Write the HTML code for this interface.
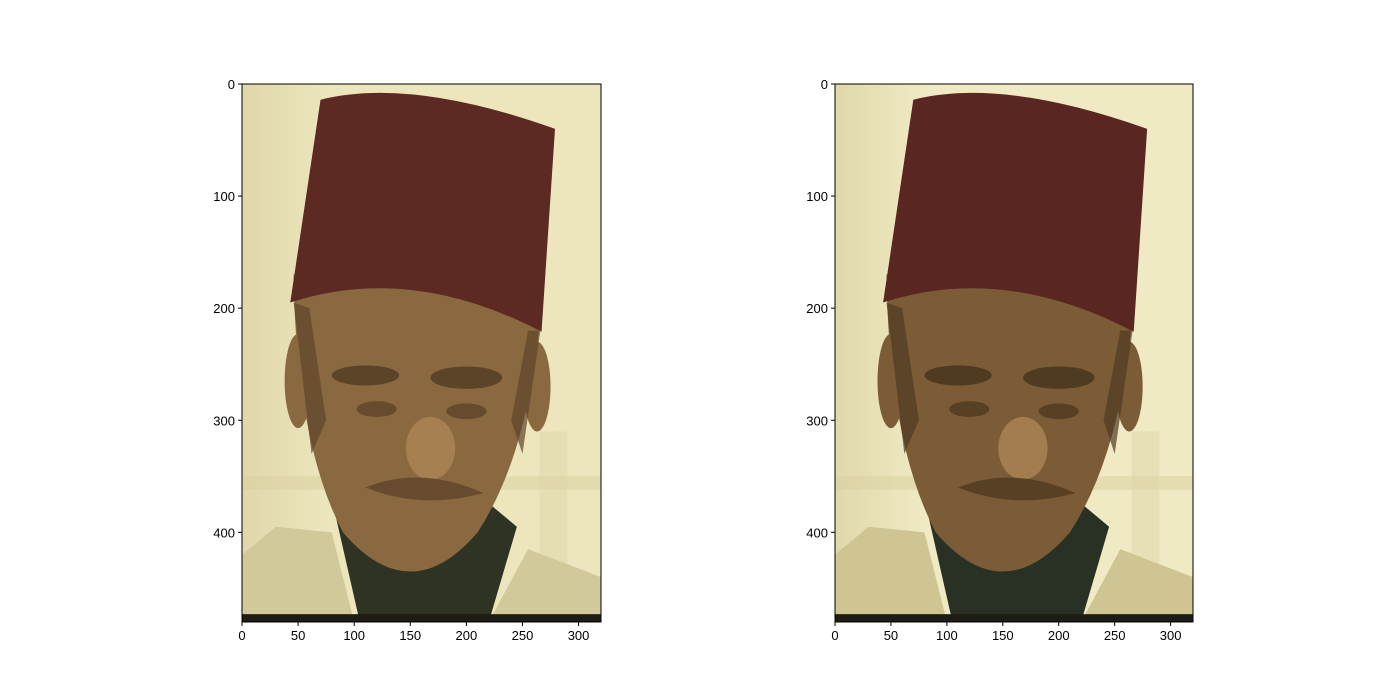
<!DOCTYPE html>
<html><head><meta charset="utf-8"><style>
html,body{margin:0;padding:0;background:#fff;width:1400px;height:700px;overflow:hidden}
svg{display:block}
text{font-family:"Liberation Sans",sans-serif;font-size:13px;fill:#000}
</style></head><body>
<svg id="fig" width="1400" height="700"></svg>
<script>
const xTicks=[0,50,100,150,200,250,300];
const yTicks=[0,100,200,300,400];
const imgW=320, imgH=480;
const panels=[
 {name:'original-image',x0:242,x1:601,bg:'#ede6bd',fez:'#5c2a23',face:'#8a6940',shade:'#5c4429',neck:'#2e3324',jacket:'#d2c99a'},
 {name:'processed-image',x0:835,x1:1193,bg:'#f0eac4',fez:'#5a2621',face:'#7c5c36',shade:'#4f3a22',neck:'#293024',jacket:'#cfc592'}
];
const y0=84,y1=622;
const NS='http://www.w3.org/2000/svg';
const fig=document.getElementById('fig');
function mk(t,a,p){const e=document.createElementNS(NS,t);for(const k in a)e.setAttribute(k,a[k]);(p||fig).appendChild(e);return e;}
panels.forEach(P=>{
 const sx=v=>P.x0+v*(P.x1-P.x0)/imgW, sy=v=>y0+v*(y1-y0)/imgH;
 const g=mk('svg',{x:P.x0,y:y0,width:P.x1-P.x0,height:y1-y0,viewBox:'0 0 320 480',preserveAspectRatio:'none'});
 
 
 const defs=mk('defs',{},g);
 const lg=mk('linearGradient',{id:'bg'+P.x0,x1:0,y1:0,x2:1,y2:0},defs);
 mk('stop',{offset:0,'stop-color':'#e0d8aa'},lg);mk('stop',{offset:0.25,'stop-color':P.bg},lg);mk('stop',{offset:1,'stop-color':P.bg},lg);
 mk('rect',{x:0,y:0,width:320,height:480,fill:'url(#bg'+P.x0+')'},g);
 mk('rect',{x:0,y:350,width:320,height:12,fill:'#d8cfa0',opacity:0.5},g);
 mk('rect',{x:265,y:310,width:25,height:120,fill:'#ddd5a8',opacity:0.5},g);
 // jacket
 mk('path',{d:'M0 420 L30 395 L80 400 L100 480 L0 480 Z',fill:P.jacket},g);
 mk('path',{d:'M220 480 L255 415 L320 440 L320 480 Z',fill:P.jacket},g);
 // neck/shirt
 mk('path',{d:'M80 370 L120 360 L215 370 L245 395 L220 480 L105 480 Z',fill:P.neck},g);
 // ears
 mk('ellipse',{cx:50,cy:265,rx:12,ry:42,fill:P.face},g);
 mk('ellipse',{cx:263,cy:270,rx:12,ry:40,fill:P.face},g);
 // face
 mk('path',{d:'M46 170 Q48 320 90 400 Q150 470 210 400 Q262 320 268 170 Z',fill:P.face},g);
 mk('path',{d:'M46 195 L62 330 L75 300 L60 200 Z',fill:P.shade,opacity:0.7},g);
 mk('path',{d:'M266 220 L250 330 L240 300 L255 220 Z',fill:P.shade,opacity:0.7},g);
 mk('ellipse',{cx:110,cy:260,rx:30,ry:9,fill:P.shade},g);
 mk('ellipse',{cx:200,cy:262,rx:32,ry:10,fill:P.shade},g);
 mk('ellipse',{cx:120,cy:290,rx:18,ry:7,fill:P.shade,opacity:0.8},g);
 mk('ellipse',{cx:200,cy:292,rx:18,ry:7,fill:P.shade,opacity:0.8},g);
 mk('ellipse',{cx:168,cy:325,rx:22,ry:28,fill:'#b38a5a',opacity:0.7},g);
 mk('path',{d:'M110 360 Q160 340 215 365 Q160 380 110 360 Z',fill:P.shade,opacity:0.8},g);
 // fez
 mk('path',{d:'M70 14 Q150 -6 279 40 L267 221 Q150 160 43 195 Z',fill:P.fez},g);
 // bottom strip
 mk('rect',{x:0,y:473,width:320,height:7,fill:'#1e1c14'},g);
 // frame
 const fr=mk('rect',{x:P.x0,y:y0,width:P.x1-P.x0,height:y1-y0,fill:'none',stroke:'#000','stroke-width':1});
 
 
 xTicks.forEach(t=>{const x=sx(t);
  mk('line',{x1:x,y1:y1,x2:x,y2:y1+4,stroke:'#000'});
  const tx=mk('text',{x:x,y:y1+18,'text-anchor':'middle'});tx.textContent=t;
  
  });
 yTicks.forEach(t=>{const y=sy(t);
  mk('line',{x1:P.x0,y1:y,x2:P.x0-4,y2:y,stroke:'#000'});
  const tx=mk('text',{x:P.x0-7,y:y+5,'text-anchor':'end'});tx.textContent=t;
  
  });
});
</script>
</body></html>
